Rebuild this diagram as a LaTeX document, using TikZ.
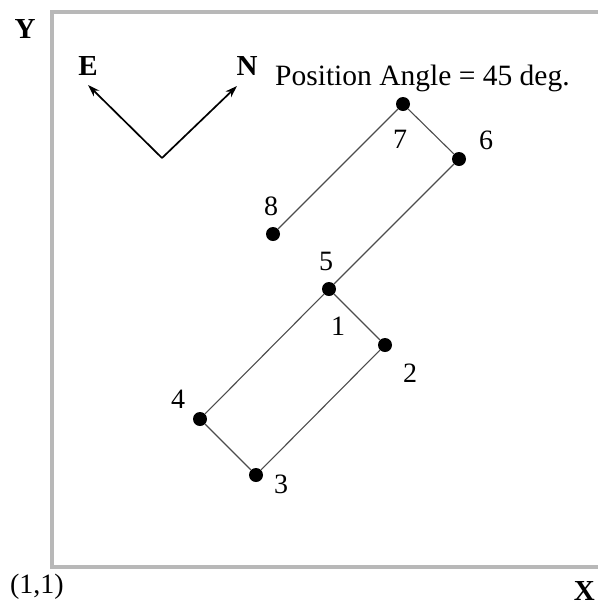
\documentclass[tikz,border=0pt]{standalone}
\usepackage{fontspec}
\setmainfont{Liberation Serif}
\usetikzlibrary{arrows.meta, positioning}

\begin{document}
\begin{tikzpicture}[
  x=1pt, y=-1pt,
  frame/.style={draw=black!28, line width=3.2pt},
  dot/.style={circle, fill=black, inner sep=0pt, minimum size=14pt},
  link/.style={draw=black!70, line width=1.1pt},
  dir/.style={-{Stealth[length=12pt, width=8pt]}, line width=1.7pt},
  num/.style={anchor=base, inner sep=0pt, font=\fontsize{28}{30}\selectfont},
  axis/.style={anchor=base, inner sep=0pt, font=\fontsize{29}{31}\selectfont\bfseries}
]
\useasboundingbox (0,0) rectangle (598,606);
% frame (open on the right)
\draw[frame] (598,12) -- (52,12) -- (52,567) -- (598,567);
\node[axis] (ylab) at (25,38) {Y};
\node[axis, anchor=base east] (xlab) at (595,600) {X};
\node[num] (origin) at (37,593) {(1,1)};

% compass
\coordinate (c0) at (162,158);
\coordinate (ce) at (88,85);
\coordinate (cn) at (237,86);
\draw[dir] (c0) -- (ce);
\draw[dir] (c0) -- (cn);
\node[axis] (elab) at (88,75) {E};
\node[axis] (nlab) at (247,75) {N};
\node[num, anchor=base west, font=\fontsize{29.5}{31}\selectfont] (pa) at (275,85) {Position Angle = 45 deg.};

% dither points
\node[dot] (p7) at (403,104) {};
\node[dot] (p6) at (459,159) {};
\node[dot] (p8) at (273,234) {};
\node[dot] (p5) at (329,289) {};
\node[dot] (p2) at (385,345) {};
\node[dot] (p4) at (200,419) {};
\node[dot] (p3) at (256,475) {};

\draw[link] (p8) -- (p7) -- (p6) -- (p5) -- (p2) -- (p3) -- (p4) -- (p5);

\node[num] (l7) at (400,148) {7};
\node[num] (l6) at (486,149) {6};
\node[num] (l8) at (271,215) {8};
\node[num] (l5) at (326,270) {5};
\node[num] (l1) at (338,335) {1};
\node[num] (l2) at (410,382) {2};
\node[num] (l4) at (178,408) {4};
\node[num] (l3) at (281,493) {3};
\end{tikzpicture}
\end{document}
